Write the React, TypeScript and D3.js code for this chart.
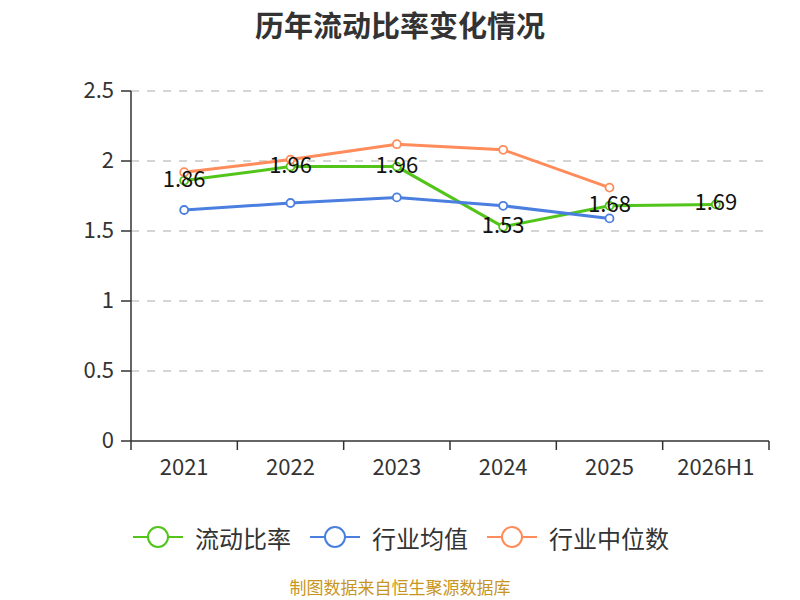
import * as d3 from 'd3'

const categories = ['2021', '2022', '2023', '2024', '2025', '2026H1']
const currentRatio = [1.86, 1.96, 1.96, 1.53, 1.68, 1.69]
const industryMean = [1.65, 1.70, 1.74, 1.68, 1.59]
const industryMedian = [1.92, 2.01, 2.12, 2.08, 1.81]
const yTicks = [0, 0.5, 1, 1.5, 2, 2.5]

const FONT = '"Noto Sans CJK SC", "Noto Sans", sans-serif'

const series = [
  { name: '流动比率', color: '#52c41a', values: currentRatio, labels: true },
  { name: '行业均值', color: '#4a7fe0', values: industryMean, labels: false },
  { name: '行业中位数', color: '#ff8c5a', values: industryMedian, labels: false },
]

const legendX = [133, 310, 487]

export default function App() {
  const width = 800
  const height = 600
  const m = { l: 131, r: 769, t: 91, b: 441 }

  const x = d3.scaleBand().domain(categories).range([m.l, m.r])
  const y = d3.scaleLinear().domain([0, 2.5]).range([m.b, m.t])
  const cx = (i: number) => x(categories[i])! + x.bandwidth() / 2

  const line = d3
    .line<number>()
    .x((_, i) => cx(i))
    .y(d => y(d))

  const boundaries = [...categories.map(c => x(c)!), m.r]

  return (
    <svg
      width={width}
      height={height}
      style={{ position: 'absolute', left: 0, top: 0, background: '#fff' }}
      fontFamily={FONT}
    >
      {/* Title */}
      <text x={400} y={24} textAnchor="middle" dominantBaseline="central" fontSize={29} fontWeight="bold" fill="#333">
        历年流动比率变化情况
      </text>

      {/* Grid */}
      {yTicks.filter(t => t > 0).map(t => (
        <line
          key={t}
          x1={m.l}
          x2={m.r}
          y1={y(t)}
          y2={y(t)}
          stroke="#c8c8c8"
          strokeWidth={1.5}
          strokeDasharray="8,8"
        />
      ))}

      {/* Y axis */}
      <line x1={m.l} x2={m.l} y1={m.t} y2={m.b} stroke="#333" strokeWidth={1.5} />
      {yTicks.map(t => (
        <g key={t}>
          <line x1={m.l - 10} x2={m.l} y1={y(t)} y2={y(t)} stroke="#333" strokeWidth={1.5} />
          <text
            x={m.l - 17}
            y={y(t) - 3}
            textAnchor="end"
            dominantBaseline="central"
            fontSize={22}
            fill="#333"
          >
            {t}
          </text>
        </g>
      ))}

      {/* X axis */}
      <line x1={m.l} x2={m.r} y1={m.b} y2={m.b} stroke="#333" strokeWidth={1.5} />
      {boundaries.map((b, i) => (
        <line key={i} x1={b} x2={b} y1={m.b} y2={m.b + 9} stroke="#333" strokeWidth={1.5} />
      ))}
      {categories.map((c, i) => (
        <text
          key={c}
          x={cx(i)}
          y={m.b + 24}
          textAnchor="middle"
          dominantBaseline="central"
          fontSize={22}
          fill="#333"
        >
          {c}
        </text>
      ))}

      {/* Lines */}
      {series.map(s => (
        <g key={s.name}>
          <path d={line(s.values)!} fill="none" stroke={s.color} strokeWidth={3} />
          {s.values.map((v, i) => (
            <circle key={i} cx={cx(i)} cy={y(v)} r={4} fill="#fff" stroke={s.color} strokeWidth={1.8} />
          ))}
        </g>
      ))}

      {/* Labels */}
      {series.filter(s => s.labels).map(s =>
        s.values.map((v, i) => (
          <text
            key={s.name + i}
            x={cx(i)}
            y={y(v) - 4}
            textAnchor="middle"
            dominantBaseline="central"
            fontSize={22}
            fill="#111"
          >
            {v.toFixed(2)}
          </text>
        ))
      )}

      {/* Legend */}
      {series.map((s, i) => (
        <g key={s.name} transform={`translate(${legendX[i]},537)`}>
          <line x1={0} x2={50} y1={0} y2={0} stroke={s.color} strokeWidth={2} />
          <circle cx={25} cy={0} r={10} fill="#fff" stroke={s.color} strokeWidth={2} />
          <text x={62} y={0} dominantBaseline="central" fontSize={24} fill="#333">
            {s.name}
          </text>
        </g>
      ))}

      {/* Source */}
      <text x={400} y={586} textAnchor="middle" dominantBaseline="central" fontSize={17} fill="#c8961e">
        制图数据来自恒生聚源数据库
      </text>
    </svg>
  )
}
